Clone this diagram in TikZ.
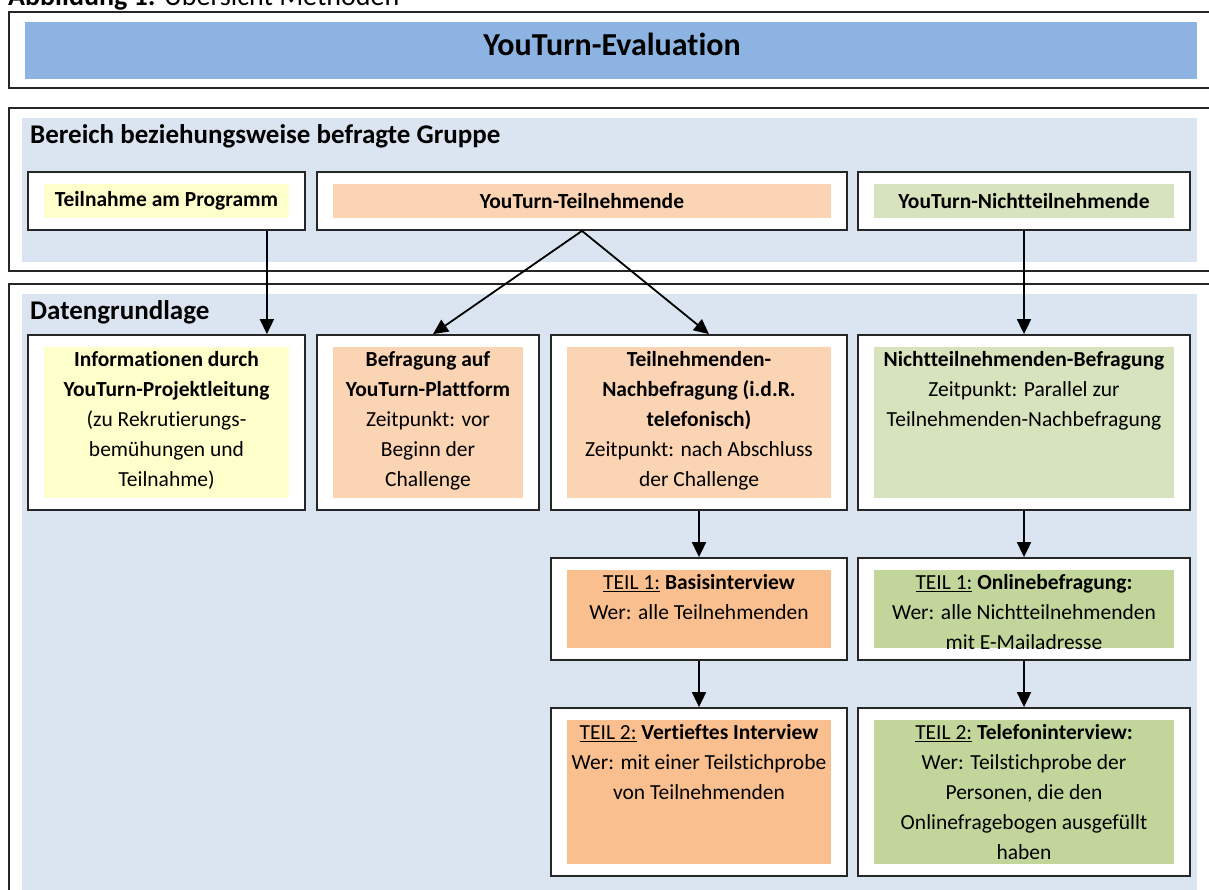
\documentclass[tikz,border=0pt]{standalone}
\usepackage{fontspec}
\setmainfont{Carlito}[Ligatures=NoCommon]
\usetikzlibrary{positioning,arrows.meta}

\definecolor{titleblue}{HTML}{8DB3E2}
\definecolor{paleblue}{HTML}{DBE5F1}
\definecolor{paleyellow}{HTML}{FFFFCC}
\definecolor{palepeach}{HTML}{FBD4B4}
\definecolor{peach}{HTML}{FABF8F}
\definecolor{palegreen}{HTML}{D6E3BC}
\definecolor{olivegreen}{HTML}{C2D69B}

\begin{document}
\begin{tikzpicture}[x=1pt, y=-1pt,
    frm/.style={draw=black!85, line width=1.8pt, fill=white, inner sep=0pt,
      path picture={\fill[#1] ([shift={(16pt,-12pt)}]path picture bounding box.north west)
        rectangle ([shift={(-16pt,12pt)}]path picture bounding box.south east);}},
    txt/.style={align=center, inner sep=0pt, font=\fontsize{21.5}{30}\selectfont},
    arr/.style={line width=1.8pt, -{Triangle[length=15pt,width=14pt]}}]
    \useasboundingbox (0,0) rectangle (1209,889);
    % Rahmen und Hintergruende
    \draw[draw=black!85, line width=1.8pt] (9,12) rectangle (1220,88);
    \fill[titleblue] (25,22) rectangle (1197,79);
    \draw[draw=black!85, line width=1.8pt] (9,108) rectangle (1220,271);
    \fill[paleblue] (22,118) rectangle (1197,262);
    \draw[draw=black!85, line width=1.8pt] (9,284) rectangle (1220,900);
    \fill[paleblue] (22,294) rectangle (1197,900);
    % Ueberschriften
    \node[anchor=base west, inner sep=0pt, font=\fontsize{28}{32}\selectfont] (caption) at (8,5)
      {\textbf{Abbildung 1:} Übersicht Methoden};
    \node[inner sep=0pt, font=\bfseries\fontsize{32}{36}\selectfont] (title) at (612,44) {YouTurn-Evaluation};
    \node[anchor=west, inner sep=0pt, font=\bfseries\fontsize{27}{30}\selectfont] (bereich) at (30,136)
      {Bereich beziehungsweise befragte Gruppe};
    \node[anchor=west, inner sep=0pt, font=\bfseries\fontsize{27}{30}\selectfont] (daten) at (30,312)
      {Datengrundlage};
    % Gruppen
    \node[frm=paleyellow, txt, minimum width=277pt, minimum height=58pt] (teilnahme) at (166.5,201)
      {\textbf{Teilnahme am Programm}};
    \node[frm=palepeach, txt, minimum width=530pt, minimum height=58pt] (teilnehm) at (582,201)
      {\textbf{YouTurn-Teilnehmende}};
    \node[frm=palegreen, txt, minimum width=332pt, minimum height=58pt] (nichtteil) at (1024,201)
      {\textbf{YouTurn-Nichtteilnehmende}};
    % Datengrundlage
    \node[frm=paleyellow, minimum width=277pt, minimum height=175pt] (info) at (166.5,422.5) {};
    \node[txt, below=11pt of info.north] (infoT) {\strut\textbf{Informationen durch}\\
      \textbf{YouTurn-Projektleitung}\\(zu Rekrutierungs-\\bemühungen und\\Teilnahme)};
    \node[frm=palepeach, minimum width=222pt, minimum height=175pt] (befragung) at (428,422.5) {};
    \node[txt, below=11pt of befragung.north] (befragungT) {\strut\textbf{Befragung auf}\\
      \textbf{YouTurn-Plattform}\\Zeitpunkt: vor\\Beginn der\\Challenge};
    \node[frm=palepeach, minimum width=296pt, minimum height=175pt] (nachbef) at (699,422.5) {};
    \node[txt, below=11pt of nachbef.north] (nachbefT) {\strut\textbf{Teilnehmenden-}\\
      \textbf{Nachbefragung (i.d.R.}\\\textbf{telefonisch)}\\Zeitpunkt: nach Abschluss\\der Challenge};
    \node[frm=palegreen, minimum width=332pt, minimum height=175pt] (nichtbef) at (1024,422.5) {};
    \node[txt, below=11pt of nichtbef.north] (nichtbefT) {\strut\textbf{Nichtteilnehmenden-Befragung}\\
      Zeitpunkt: Parallel zur\\Teilnehmenden-Nachbefragung};
    % Teil 1
    \node[frm=peach, minimum width=296pt, minimum height=102pt] (basis) at (699,609) {};
    \node[txt, below=11pt of basis.north] (basisT) {\strut\underline{TEIL 1:} \textbf{Basisinterview}\\
      Wer: alle Teilnehmenden};
    \node[frm=olivegreen, minimum width=332pt, minimum height=102pt] (online) at (1024,609) {};
    \node[txt, below=11pt of online.north] (onlineT) {\strut\underline{TEIL 1:} \textbf{Onlinebefragung:}\\
      Wer: alle Nichtteilnehmenden\\mit E-Mailadresse};
    % Teil 2
    \node[frm=peach, minimum width=296pt, minimum height=168pt] (vertieft) at (699,792) {};
    \node[txt, below=11pt of vertieft.north] (vertieftT) {\strut\underline{TEIL 2:} \textbf{Vertieftes Interview}\\
      Wer: mit einer Teilstichprobe\\von Teilnehmenden};
    \node[frm=olivegreen, minimum width=332pt, minimum height=168pt] (telefon) at (1024,792) {};
    \node[txt, below=11pt of telefon.north] (telefonT) {\strut\underline{TEIL 2:} \textbf{Telefoninterview:}\\
      Wer: Teilstichprobe der\\Personen, die den\\Onlinefragebogen ausgefüllt\\haben};
    % Pfeile
    \draw[arr] ([xshift=-39pt]teilnahme.south east) -- ([xshift=-39pt]info.north east);
    \draw[arr] (teilnehm.south) -- ([xshift=5pt]befragung.north);
    \draw[arr] (teilnehm.south) -- ([xshift=10pt]nachbef.north);
    \draw[arr] (nichtteil) -- (nichtbef);
    \draw[arr] (nachbef) -- (basis);
    \draw[arr] (online |- nichtbef.south) -- (online);
    \draw[arr] (basis) -- (vertieft);
    \draw[arr] (online) -- (telefon);
\end{tikzpicture}
\end{document}
